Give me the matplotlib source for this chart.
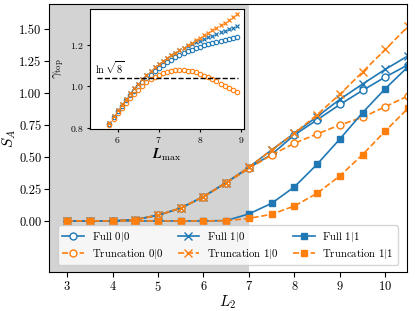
import numpy as np
import matplotlib
matplotlib.use("Agg")
import matplotlib.pyplot as plt

plt.rcParams["font.family"] = "serif"
plt.rcParams["font.serif"] = ["cmr10"]
plt.rcParams["mathtext.fontset"] = "cm"
plt.rcParams["axes.formatter.use_mathtext"] = True

# main panel: entanglement entropy vs L2
L2 = [3, 3.5, 4, 4.5, 5, 5.5, 6, 6.5, 7, 7.5, 8, 8.5, 9, 9.5, 10, 10.5]
full_00 = [0, 0, 0, 0.01, 0.045, 0.10, 0.19, 0.30, 0.415, 0.52, 0.672, 0.79, 0.91, 1.02, 1.125, 1.22]
full_10 = [0, 0, 0, 0.01, 0.045, 0.10, 0.19, 0.30, 0.42, 0.555, 0.685, 0.815, 0.95, 1.07, 1.185, 1.29]
full_11 = [0, 0, 0, 0, 0, 0, 0, 0.003, 0.055, 0.138, 0.266, 0.443, 0.64, 0.846, 1.034, 1.205]
trunc_00 = [0, 0, 0, 0.01, 0.045, 0.10, 0.19, 0.295, 0.41, 0.516, 0.607, 0.68, 0.75, 0.81, 0.893, 0.977]
trunc_10 = [0, 0, 0, 0.01, 0.045, 0.10, 0.19, 0.30, 0.42, 0.555, 0.685, 0.83, 0.99, 1.164, 1.34, 1.52]
trunc_11 = [0, 0, 0, 0, 0, 0, 0, 0.002, 0.02, 0.052, 0.117, 0.216, 0.352, 0.518, 0.703, 0.88]

# inset: gamma_top vs L_max
L_max = [5.8, 5.9, 6.0, 6.1, 6.2, 6.3, 6.4, 6.5, 6.6, 6.7, 6.8, 6.9, 7.0, 7.1, 7.2, 7.3,
         7.4, 7.5, 7.6, 7.7, 7.8, 7.9, 8.0, 8.1, 8.2, 8.3, 8.4, 8.5, 8.6, 8.7, 8.8, 8.9]
g_full_00 = [0.82, 0.851, 0.88, 0.907, 0.932, 0.956, 0.978, 0.999, 1.019, 1.038, 1.055, 1.071,
             1.088, 1.102, 1.115, 1.127, 1.138, 1.148, 1.158, 1.167, 1.175, 1.183, 1.19, 1.197,
             1.203, 1.209, 1.214, 1.219, 1.224, 1.228, 1.232, 1.236]
g_full_10 = [0.825, 0.857, 0.887, 0.915, 0.941, 0.966, 0.99, 1.012, 1.033, 1.053, 1.072, 1.09,
             1.107, 1.122, 1.136, 1.149, 1.161, 1.172, 1.182, 1.192, 1.201, 1.21, 1.218, 1.226,
             1.234, 1.242, 1.25, 1.258, 1.265, 1.273, 1.28, 1.288]
g_trunc_00 = [0.816, 0.844, 0.871, 0.896, 0.92, 0.943, 0.964, 0.984, 1.002, 1.019, 1.034, 1.046,
              1.056, 1.063, 1.069, 1.073, 1.076, 1.077, 1.077, 1.075, 1.071, 1.066, 1.059, 1.051,
              1.042, 1.033, 1.023, 1.013, 1.003, 0.993, 0.982, 0.971]
g_trunc_10 = [0.825, 0.857, 0.887, 0.915, 0.941, 0.966, 0.99, 1.012, 1.033, 1.053, 1.072, 1.09,
              1.107, 1.122, 1.136, 1.149, 1.161, 1.173, 1.185, 1.197, 1.209, 1.22, 1.232, 1.244,
              1.256, 1.268, 1.28, 1.292, 1.305, 1.318, 1.332, 1.346]

blue = "#1f77b4"
orange = "#ff7f0e"

fig = plt.figure(figsize=(4.15, 3.11), dpi=100)
ax = fig.add_axes([0.118, 0.125, 0.863, 0.862])

ax.axvspan(2.6, 7, color="lightgray", zorder=0, lw=0)

ms = 5
ax.plot(L2, full_00, "-o", color=blue, mfc="white", ms=ms, lw=1.2, label="Full $0|0$")
ax.plot(L2, trunc_00, "--o", color=orange, mfc="white", ms=ms, lw=1.2, label="Truncation $0|0$")
ax.plot(L2, full_10, "-x", color=blue, ms=ms + 1, lw=1.2, label="Full $1|0$")
ax.plot(L2, trunc_10, "--x", color=orange, ms=ms + 1, lw=1.2, label="Truncation $1|0$")
ax.plot(L2, full_11, "-s", color=blue, ms=ms, lw=1.2, label="Full $1|1$")
ax.plot(L2, trunc_11, "--s", color=orange, ms=ms, lw=1.2, label="Truncation $1|1$")

ax.set_xlim(2.6, 10.48)
ax.set_ylim(-0.4, 1.695)
ax.set_xticks(range(3, 11))
ax.set_yticks([0, 0.25, 0.5, 0.75, 1.0, 1.25, 1.5])
ax.set_yticklabels(["0.00", "0.25", "0.50", "0.75", "1.00", "1.25", "1.50"])
ax.tick_params(labelsize=9, pad=2)
ax.set_xlabel("$L_2$", fontsize=11, labelpad=0)
ax.set_ylabel("$S_A$", fontsize=11, labelpad=1)

ax.legend(ncol=3, loc="lower center", bbox_to_anchor=(0.5, 0.005), fontsize=7.8,
          handlelength=2.0, columnspacing=1.3, borderpad=0.4, labelspacing=0.3,
          handletextpad=0.7)

ins = fig.add_axes([0.217, 0.585, 0.371, 0.386])
ms2 = 3.2
ins.plot(L_max, g_full_00, "o", color=blue, mfc="none", ms=ms2, mew=0.8)
ins.plot(L_max, g_full_10, "x", color=blue, ms=ms2, mew=0.9)
ins.plot(L_max, g_trunc_00, "o", color=orange, mfc="none", ms=ms2, mew=0.8)
ins.plot(L_max, g_trunc_10, "x", color=orange, ms=ms2, mew=0.9)
ins.hlines(np.log(np.sqrt(8)), 5.5, 8.93, colors="black", linestyles="--", lw=1)
ins.text(5.8, np.log(np.sqrt(8)) + 0.008, r"$\ln\sqrt{8}$", fontsize=7.5, ha="center", va="bottom")
ins.set_xlim(5.33, 9.07)
ins.set_ylim(0.795, 1.37)
ins.set_xticks([6, 7, 8, 9])
ins.set_yticks([0.8, 1.0, 1.2])
ins.tick_params(labelsize=7, length=2.5, pad=2)
ins.set_xlabel(r"$\boldsymbol{L}_{\max}$", fontsize=10, labelpad=1)
ins.set_ylabel(r"$\gamma_{\rm top}$", fontsize=9, labelpad=3)

fig.savefig("out.png", dpi=100)
